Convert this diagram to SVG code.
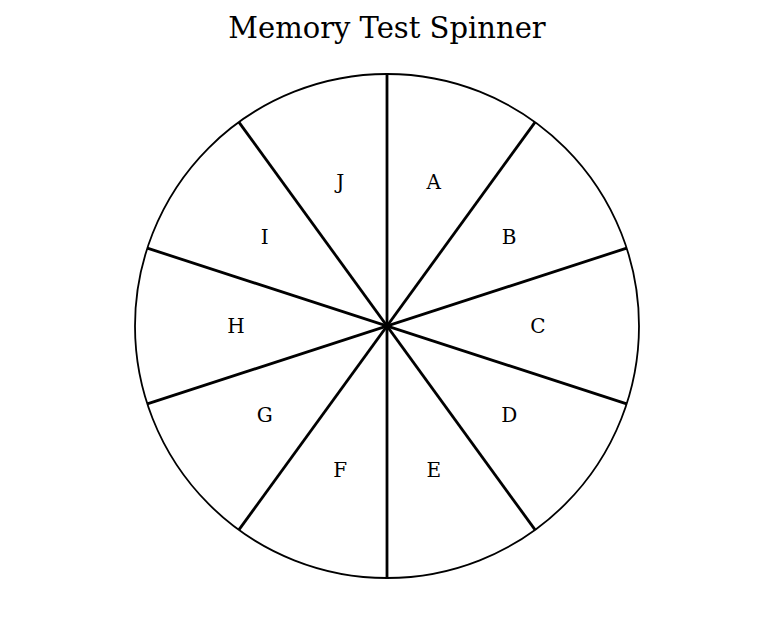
<svg xmlns="http://www.w3.org/2000/svg" width="774" height="618" viewBox="0 0 774 618">
<style>
.lbl{font-family:"DejaVu Serif",serif;font-size:20px;text-anchor:middle;dominant-baseline:central;fill:#000}
.spoke{stroke:#000;stroke-width:2.8;fill:none}
</style>
<rect width="774" height="618" fill="#fff"/>
<text x="387" y="28" font-family="DejaVu Serif, serif" font-size="29" text-anchor="middle" dominant-baseline="central">Memory Test Spinner</text>
<g id="wheel"><circle cx="387" cy="326" r="252" fill="none" stroke="#000" stroke-width="1.8"/></g>
<g id="connectors">
<line class="spoke" x1="387" y1="74" x2="387" y2="578"/>
<line class="spoke" x1="535.12" y1="122.13" x2="238.88" y2="529.87"/>
<line class="spoke" x1="626.67" y1="248.13" x2="147.33" y2="403.87"/>
<line class="spoke" x1="626.67" y1="403.87" x2="147.33" y2="248.13"/>
<line class="spoke" x1="535.12" y1="529.87" x2="238.88" y2="122.13"/>
</g>
<g id="A"><text class="lbl" x="433.7" y="182">A</text></g>
<g id="B"><text class="lbl" x="509.2" y="237">B</text></g>
<g id="C"><text class="lbl" x="538" y="326">C</text></g>
<g id="D"><text class="lbl" x="509.2" y="414.5">D</text></g>
<g id="E"><text class="lbl" x="433.7" y="469.5">E</text></g>
<g id="F"><text class="lbl" x="340.3" y="469.5">F</text></g>
<g id="G"><text class="lbl" x="264.8" y="414.5">G</text></g>
<g id="H"><text class="lbl" x="236" y="326">H</text></g>
<g id="I"><text class="lbl" x="264.8" y="237">I</text></g>
<g id="J"><text class="lbl" x="340.3" y="182">J</text></g>
</svg>
